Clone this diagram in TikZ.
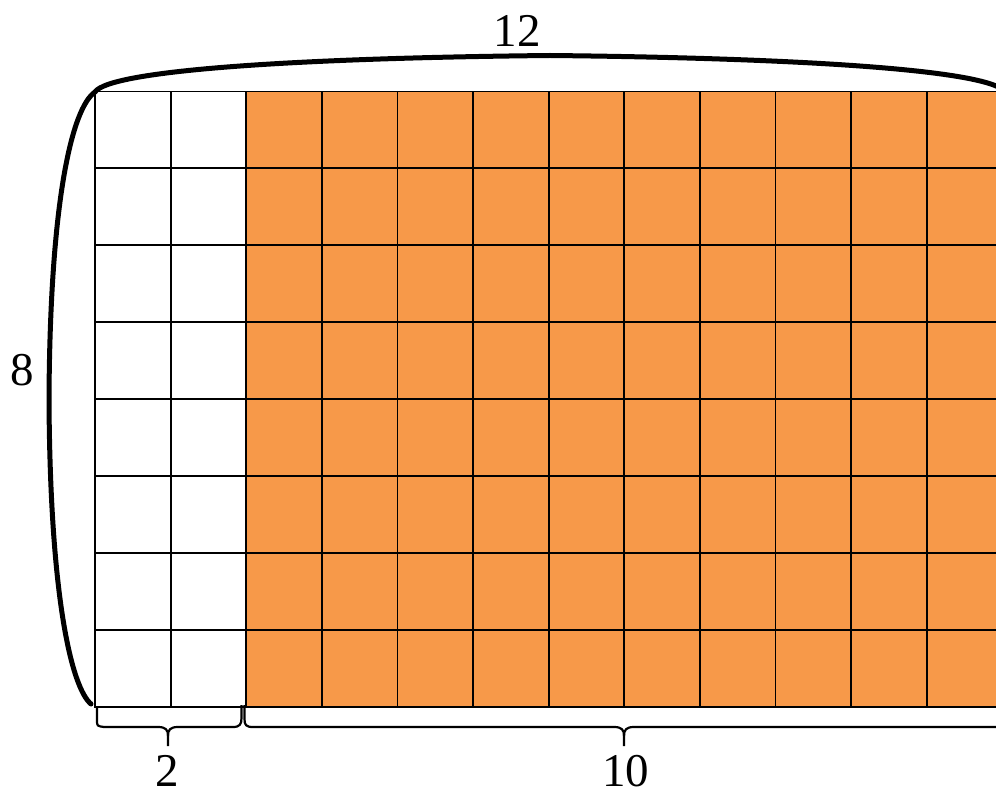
\documentclass[tikz,border=0pt]{standalone}
\usepackage{fontspec}
\setmainfont{Liberation Serif}
\definecolor{cellorange}{RGB}{247,153,73}
\tikzset{
  gridline/.style={line width=1.8pt, line cap=rect},
  bigbrace/.style={line width=5pt, line cap=round},
  smallbrace/.style={line width=2.2pt},
  lbl/.style={font=\fontsize{47}{49}\selectfont, inner sep=0pt}
}
\begin{document}
\begin{tikzpicture}[x=1pt,y=-1pt]
\useasboundingbox (0,0) rectangle (996,794);
\begin{scope}
\clip (0,0) rectangle (996,794);
% orange cells
\fill[cellorange] (246.2,91.5) rectangle (1002.2,706.7);
% grid
\foreach \i in {0,...,12} {
  \draw[gridline] ({95+75.6*\i},91.5) -- ({95+75.6*\i},706.7);
}
\foreach \j in {0,...,8} {
  \draw[gridline] (95,{91.5+76.9*\j}) -- (1002.2,{91.5+76.9*\j});
}
% top brace
\draw[bigbrace] (95,92) .. controls (110,70) and (300,58) .. (550,55.5)
  .. controls (800,58) and (990,70) .. (1005,92);
% left brace
\draw[bigbrace] (95,92) .. controls (72,108) and (50,200) .. (49,399)
  .. controls (50,600) and (72,688) .. (91,704);
% bottom brace 2
\draw[smallbrace] (97,707) -- (97,720) .. controls (97,726) .. (104,727) -- (158,727)
  .. controls (166,727) and (168,730) .. (168,736) -- (168,746);
\draw[smallbrace] (168,736) .. controls (168,730) and (170,727) .. (178,727) -- (233,727)
  .. controls (240,727) and (241.5,724) .. (241.5,718) -- (241.5,705);
% bottom brace 10
\draw[smallbrace] (244.5,705) -- (244.5,719) .. controls (244.5,725) and (246,727) .. (253,727) -- (614,727)
  .. controls (622,727) and (624,730) .. (624,736) -- (624,746);
\draw[smallbrace] (624,736) .. controls (624,730) and (626,727) .. (634,727) -- (1000,727);
\end{scope}
% labels
\node[lbl] (t12) at (517,31) {12};
\node[lbl] (t8) at (22,370) {8};
\node[lbl] (t2) at (167,771) {2};
\node[lbl] (t10) at (625.5,771) {10};
\end{tikzpicture}
\end{document}
